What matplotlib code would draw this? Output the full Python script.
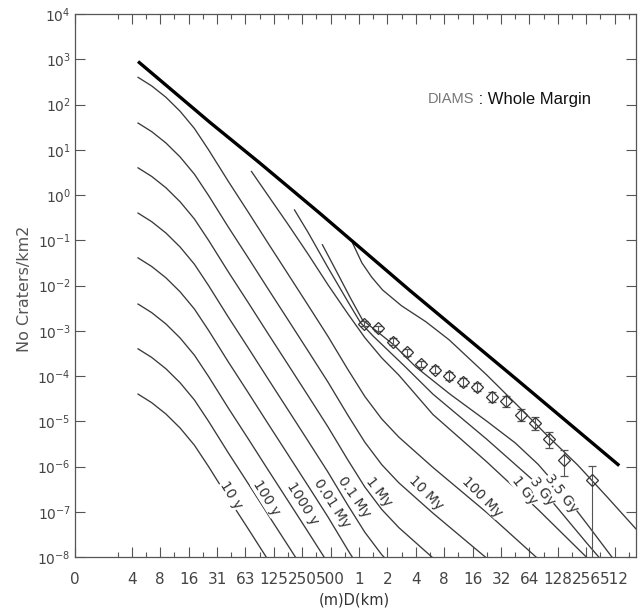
import numpy as np
import matplotlib
matplotlib.use("Agg")
import matplotlib.pyplot as plt
from matplotlib import font_manager as fm
from matplotlib.ticker import FixedLocator, FixedFormatter, NullLocator, NullFormatter

# ------------------------------------------------------------------ data
# Isochrons that start at the small-diameter edge share one diameter grid (km)
iso_D_km = [0.00455, 0.00635, 0.00898, 0.0127, 0.0180, 0.0254, 0.0412, 0.0670,
            0.109, 0.177, 0.287, 0.467, 0.758, 1.149, 1.741, 2.639, 6.063,
            22.63, 78.8, 256.0]
# log10 of crater density (No craters / km2)
iso_100My = [2.60, 2.41, 2.16, 1.85, 1.47, 1.00, 0.30, -0.38, -1.07, -1.75,
             -2.43, -3.12, -3.85, -4.45, -4.95, -5.35, -6.02, -7.02, -8.04, -9.0]
iso_10My = [1.59, 1.40, 1.15, 0.84, 0.46, -0.01, -0.71, -1.39, -2.08, -2.76,
            -3.44, -4.13, -4.86, -5.46, -5.96, -6.36, -7.03, -8.03, -9.05]
iso_1My = [0.60, 0.41, 0.16, -0.15, -0.53, -1.00, -1.70, -2.38, -3.07, -3.75,
           -4.43, -5.12, -5.85, -6.45, -6.95, -7.35, -8.02, -9.02]
iso_01My = [-0.40, -0.59, -0.84, -1.15, -1.53, -2.00, -2.70, -3.38, -4.07,
            -4.75, -5.43, -6.12, -6.85, -7.45, -7.95, -8.35]
iso_001My = [-1.39, -1.58, -1.83, -2.14, -2.52, -2.99, -3.69, -4.37, -5.06,
             -5.74, -6.42, -7.11, -7.84, -8.44]
iso_1000y = [-2.41, -2.60, -2.85, -3.16, -3.54, -4.01, -4.71, -5.39, -6.08,
             -6.76, -7.44, -8.13]
iso_100y = [-3.40, -3.59, -3.84, -4.15, -4.53, -5.00, -5.70, -6.38, -7.07,
            -7.75, -8.43]
iso_10y = [-4.40, -4.59, -4.84, -5.15, -5.53, -6.00, -6.70, -7.38, -8.07]

# Older isochrons (start below the saturation line)
gy1_D_km = [0.0724, 0.1127, 0.177, 0.287, 0.467, 0.758, 1.149, 1.741, 2.639,
            6.063, 22.63, 78.8, 256.0, 362.0]
gy1_logN = [0.52, -0.06, -0.65, -1.30, -1.98, -2.62, -3.15, -3.60, -3.98,
            -4.85, -5.90, -6.95, -8.00, -8.35]
gy3_D_km = [0.207, 0.287, 0.467, 0.758, 1.035, 1.414, 2.0, 3.03, 6.063, 22.63,
            78.8, 256.0, 347.0, 512.0]
gy3_logN = [-0.33, -0.82, -1.60, -2.35, -2.82, -3.12, -3.42, -3.78, -4.40,
            -5.40, -6.40, -7.68, -8.00, -8.40]
gy35_D_km = [0.409, 0.574, 0.812, 1.087, 1.516, 2.297, 4.0, 9.19, 22.63, 45.25,
             78.8, 141.0, 256.0, 478.0, 630.0]
gy35_logN = [-1.10, -1.68, -2.28, -2.76, -3.00, -3.30, -3.80, -4.40, -5.00,
             -5.48, -5.95, -6.55, -7.25, -8.00, -8.30]
# curve following the measured points
fit_D_km = [0.853, 1.072, 1.366, 1.778, 2.828, 5.098, 9.0, 22.63, 51.6, 102.5,
            208.0, 416.0, 861.0]
fit_logN = [-1.06, -1.50, -1.82, -2.10, -2.45, -2.80, -3.20, -3.98, -4.72,
            -5.35, -5.97, -6.65, -7.38]
# saturation equilibrium (thick line)
sat_D_km = [0.00455, 0.01105, 0.0261, 0.0884, 0.382, 3.41, 45.25, 572.0]
sat_logN = [2.95, 2.27, 1.61, 0.71, -0.40, -2.10, -4.05, -5.98]

# measured crater counts (DIAMS, whole margin)
crater_D_km = [1.141, 1.602, 2.266, 3.204, 4.532, 6.409, 9.0, 12.64, 18.0,
               25.46, 36.25, 51.6, 73.0, 104.0, 148.0, 296.0]
crater_logN = [-2.84, -2.95, -3.24, -3.48, -3.73, -3.86, -4.00, -4.13, -4.24,
               -4.46, -4.56, -4.86, -5.04, -5.40, -5.86, -6.30]
crater_logN_hi = [-2.78, -2.89, -3.17, -3.41, -3.66, -3.78, -3.92, -4.05, -4.15,
                  -4.36, -4.45, -4.74, -4.90, -5.23, -5.64, -5.98]
crater_logN_lo = [-2.90, -3.01, -3.31, -3.55, -3.80, -3.94, -4.08, -4.22, -4.34,
                  -4.57, -4.68, -5.00, -5.20, -5.60, -6.22, -9.00]

# isochron labels: text, D (km), log10 N, rotation
labels = [("10 y", 0.0442, -6.63, -58), ("100 y", 0.104, -6.70, -58),
          ("1000 y", 0.252, -6.81, -58), ("0.01 My", 0.511, -6.81, -57),
          ("0.1 My", 0.889, -6.67, -55), ("1 My", 1.64, -6.56, -52),
          ("10 My", 5.10, -6.59, -45), ("100 My", 20.1, -6.67, -45),
          ("1 Gy", 56.1, -6.52, -52), ("3 Gy", 86.8, -6.56, -52),
          ("3.5 Gy", 141.0, -6.59, -52)]

xtick_pos_km = [2.0 ** -10] + [2.0 ** k for k in range(-8, 10)]
xtick_labels = ["0", "4", "8", "16", "31", "63", "125", "250", "500",
                "1", "2", "4", "8", "16", "32", "64", "128", "256", "512"]
ytick_exp = list(range(-8, 5))

# ------------------------------------------------------------------ style
names = {f.name for f in fm.fontManager.ttflist}
if "Liberation Sans Narrow" in names:
    narrow = "Liberation Sans Narrow"
elif "Liberation Sans" in names:
    narrow = "Liberation Sans"
else:
    narrow = "DejaVu Sans"
plt.rcParams["font.family"] = ["DejaVu Sans"]

TXT = "#444444"
LINE = "#3a3a3a"

fig = plt.figure(figsize=(6.41, 6.13), dpi=100)
ax = fig.add_axes([75 / 641, 56 / 613, 561 / 641, 543 / 613])
ax.set_xscale("log", base=2)
ax.set_yscale("log")
ax.set_xlim(2.0 ** -10, 2.0 ** 9.75)
ax.set_ylim(1e-8, 1e4)


def dens(v):
    return 10.0 ** np.asarray(v, dtype=float)


for arr in [iso_100My, iso_10My, iso_1My, iso_01My, iso_001My, iso_1000y,
            iso_100y, iso_10y]:
    ax.plot(iso_D_km[:len(arr)], dens(arr), color=LINE, lw=0.95, zorder=2)

for D, v in [(gy1_D_km, gy1_logN), (gy3_D_km, gy3_logN),
             (gy35_D_km, gy35_logN), (fit_D_km, fit_logN)]:
    ax.plot(D, dens(v), color=LINE, lw=0.95, zorder=2)

ax.plot(sat_D_km, dens(sat_logN), color="black", lw=2.4, zorder=3,
        solid_capstyle="butt")

N = dens(crater_logN)
yerr = [N - dens(crater_logN_lo), dens(crater_logN_hi) - N]
ax.errorbar(crater_D_km, N, yerr=yerr, fmt="D", ms=6, mfc="none", mec="#333333",
            mew=0.9, ecolor="#555555", elinewidth=0.8, capsize=3, capthick=0.8,
            zorder=4)

for txt, d, ly, rot in labels:
    ax.text(d, 10.0 ** ly, txt, rotation=rot, rotation_mode="anchor",
            ha="center", va="center", fontsize=10, color="#333333", zorder=5,
            bbox=dict(facecolor="white", edgecolor="none", pad=0.1))

# axes decoration
ax.xaxis.set_major_locator(FixedLocator(xtick_pos_km))
ax.xaxis.set_major_formatter(FixedFormatter(xtick_labels))
ax.xaxis.set_minor_locator(FixedLocator([2.0 ** (k + 0.5) for k in range(-9, 10)]))
ax.xaxis.set_minor_formatter(NullFormatter())
ax.yaxis.set_major_locator(FixedLocator([10.0 ** e for e in ytick_exp]))
ax.yaxis.set_major_formatter(FixedFormatter([r"$10^{%d}$" % e for e in ytick_exp]))
ax.yaxis.set_minor_locator(NullLocator())

ax.tick_params(which="both", direction="in", top=True, right=True,
               color="#555555", width=0.8)
ax.tick_params(which="major", length=7)
ax.tick_params(which="minor", length=3.5)
ax.tick_params(axis="x", which="major", pad=11, labelsize=11, labelcolor=TXT)
ax.tick_params(axis="y", which="major", pad=3, labelsize=10, labelcolor=TXT)
for s in ax.spines.values():
    s.set_color("#555555")
    s.set_linewidth(0.9)

fig.text(25 / 641, 1 - 289 / 613, "No Craters/km2", rotation=90, ha="center",
         va="center", fontsize=11.5, color="#555555")
fig.text(354 / 641, 1 - 600 / 613, "(m)D(km)", ha="center", va="center",
         fontsize=10.5, color="#333333")

t_diams = ax.text(0.629, 0.843, "DIAMS", transform=ax.transAxes, ha="left",
                  va="center", fontsize=10.5, color="#777777",
                  family=[narrow, "DejaVu Sans"])
ax.annotate(" : Whole Margin", xy=(1.0, 0.5), xycoords=t_diams, ha="left",
            va="center", fontsize=12, color="#111111",
            family=[narrow, "DejaVu Sans"])

fig.savefig("out.png", dpi=100)
